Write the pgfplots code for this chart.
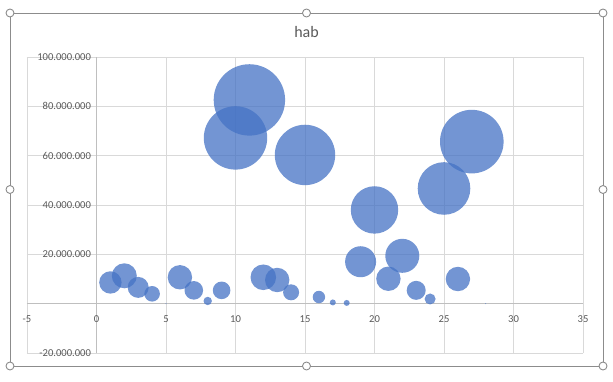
\documentclass[border=0pt]{standalone}
\usepackage{pgfplots}
\usepackage{pgfplotstable}
\pgfplotsset{compat=1.18}
\usepackage{fontspec}
\setmainfont{Carlito}
\definecolor{bub}{HTML}{4472C4}
\definecolor{txt}{HTML}{595959}
\definecolor{grd}{HTML}{D9D9D9}
\definecolor{axl}{HTML}{BFBFBF}
\definecolor{frm}{HTML}{8C8C8C}
\pgfplotstableread{
x y r
1 8.6 11.2
2 11.3 12.5
3 6.6 10.5
4 4.0 7.8
5 0 0.5
6 10.7 12.2
7 5.4 9.3
8 1.1 4.2
9 5.4 8.8
10 67.2 31.7
11 82.6 35.7
12 10.7 12.8
13 9.6 12.2
14 4.6 8.0
15 60.3 30.2
16 2.7 6.2
17 0.5 3
18 0.3 3
19 17.0 15.5
20 38.0 23.7
21 10.1 12.2
22 19.4 17
23 5.4 9.5
24 1.9 5.5
25 46.7 26.3
26 10.0 12.2
27 65.7 31.8
28 0 0.5
}\bubbles
\begin{document}
\begin{tikzpicture}
\useasboundingbox (0,0) rectangle (613pt,381pt);
\begin{axis}[
  at={(27pt,28pt)}, anchor=south west,
  scale only axis, width=556pt, height=296pt,
  xmin=-5, xmax=35, ymin=-20, ymax=100,
  axis lines=middle,
  axis line style={axl, line width=0.8pt, -},
  hide obscured x ticks=false, hide obscured y ticks=false,
  grid=major, grid style={grd, line width=0.6pt},
  xtick={-5,0,...,35}, ytick={-20,0,...,100},
  yticklabels={-20.000.000,,20.000.000,40.000.000,60.000.000,80.000.000,100.000.000},
  major tick length=0pt,
  tick label style={font=\fontsize{10.6}{12}\selectfont, text=txt},
  /pgf/number format/assume math mode=true,
  xticklabel style={anchor=north, yshift=-8pt},
  yticklabel shift=2pt,
  clip=false,
]
\addplot[scatter, only marks, mark=*,
  mark options={draw opacity=0, fill=bub, fill opacity=0.75},
  visualization depends on={\thisrow{r} \as \rad},
  scatter/@pre marker code/.code={\scope[mark size=\rad pt, draw=bub, draw opacity=0, fill=bub, fill opacity=0.75]},
  scatter/@post marker code/.code={\endscope},
  point meta=explicit] table[x=x, y=y, meta=r] {\bubbles};
\end{axis}
\node[text=txt, font=\fontsize{16}{18}\selectfont] at (306.5pt,349pt) {hab};
\draw[frm, line width=0.9pt] (10pt,15pt) rectangle (603pt,368pt);
\foreach \p in {(10pt,15pt),(10pt,191.5pt),(10pt,368pt),(306.5pt,15pt),(306.5pt,368pt),(603pt,15pt),(603pt,191.5pt),(603pt,368pt)}
  \draw[frm, fill=white, line width=0.9pt] \p circle (4pt);
\end{tikzpicture}
\end{document}
